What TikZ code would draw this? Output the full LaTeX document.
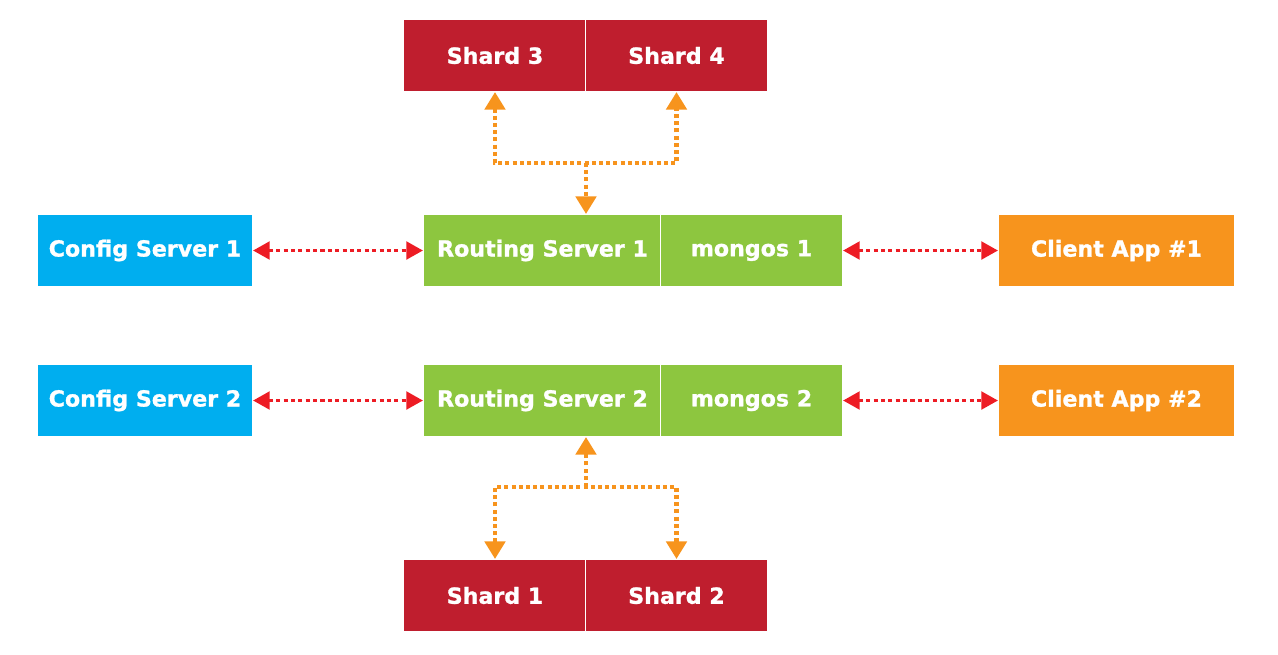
\documentclass[tikz,border=0pt]{standalone}
\usepackage{fontspec}
\setmainfont{DejaVu Sans}[BoldFeatures={FakeBold=1.2}]
\usetikzlibrary{arrows.meta}
\definecolor{shardred}{RGB}{191,30,46}
\definecolor{routegreen}{RGB}{141,198,63}
\definecolor{cfgblue}{RGB}{0,174,239}
\definecolor{apporange}{RGB}{247,148,29}
\definecolor{linkred}{RGB}{237,28,36}
\tikzset{
  box/.style={draw=white, line width=0.6pt, minimum height=1.44cm, inner sep=0pt,
    text=white, font=\fontsize{12.6}{14}\selectfont\bfseries},
  shardbox/.style={box, fill=shardred, minimum width=3.65cm},
  routebox/.style={box, fill=routegreen, minimum width=4.76cm},
  mongobox/.style={box, fill=routegreen, minimum width=3.64cm},
  cfgbox/.style={box, fill=cfgblue, minimum width=4.3cm},
  appbox/.style={box, fill=apporange, minimum width=4.72cm},
  redlink/.style={linkred, line width=2pt, dash pattern=on 2.3pt off 1.9pt,
    {Triangle[width=10pt,length=9.5pt]}-{Triangle[width=10pt,length=9.5pt]}},
  orangelink/.style={apporange, line width=2.4pt, dash pattern=on 2.3pt off 1.8pt}
}
\begin{document}
\begin{tikzpicture}[x=0.02cm, y=-0.02cm]
      \useasboundingbox (0,0) rectangle (1278,654);
      % shards on top
      \node[shardbox] (shard3) at (495,55.5) {Shard 3};
      \node[shardbox] (shard4) at (676.5,55.5) {Shard 4};
      % first row
      \node[cfgbox] (config1) at (145,250.5) {Config Server 1};
      \node[routebox] (routing1) at (542.5,250.5) {Routing Server 1};
      \node[mongobox] (mongos1) at (751.5,250.5) {mongos 1};
      \node[appbox] (client1) at (1116.5,250.5) {Client App \#1};
      % second row
      \node[cfgbox] (config2) at (145,400.5) {Config Server 2};
      \node[routebox] (routing2) at (542.5,400.5) {Routing Server 2};
      \node[mongobox] (mongos2) at (751.5,400.5) {mongos 2};
      \node[appbox] (client2) at (1116.5,400.5) {Client App \#2};
      % shards at the bottom
      \node[shardbox] (shard1) at (495,595.5) {Shard 1};
      \node[shardbox] (shard2) at (676.5,595.5) {Shard 2};
      \coordinate (jtop) at (586,163);
      \coordinate (jbot) at (586,487);
      \foreach \a/\b in {config1/routing1, config2/routing2} {
        \draw[redlink] (\a.east) -- (\b.west);
      }
      \foreach \a/\b in {mongos1/client1, mongos2/client2} {
        \draw[redlink] (\a.east) -- (\b.west);
      }
      \draw[orangelink, {Triangle[width=11.5pt,length=10pt]}-{Triangle[width=11.5pt,length=10pt]}]
        (shard3.south) |- (jtop) -| (shard4.south);
      \draw[orangelink, -{Triangle[width=11.5pt,length=10pt]}] (jtop) -- (jtop |- routing1.north);
      \draw[orangelink, {Triangle[width=11.5pt,length=10pt]}-{Triangle[width=11.5pt,length=10pt]}]
        (shard1.north) |- (jbot) -| (shard2.north);
      \draw[orangelink, -{Triangle[width=11.5pt,length=10pt]}] (jbot) -- (jbot |- routing2.south);
    \end{tikzpicture}
\end{document}
